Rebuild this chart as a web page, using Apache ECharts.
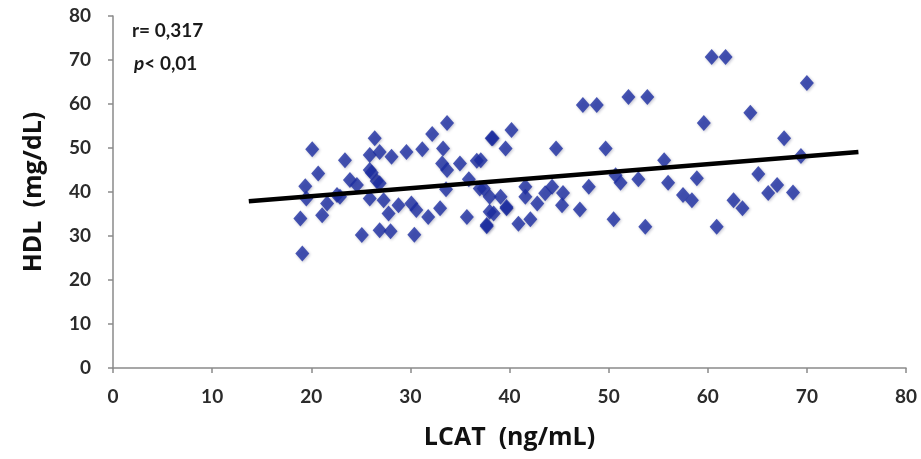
<!DOCTYPE html>
<html>
<head>
<meta charset="utf-8">
<script src="https://cdn.jsdelivr.net/npm/echarts@6/dist/echarts.min.js"></script>
<style>
  html, body { margin: 0; padding: 0; background: #fff; }
  #chart { width: 921px; height: 459px; }
</style>
</head>
<body>
<div id="chart"></div>
<script>
// LCAT (ng/mL) values
const lcat = [
  20.1, 26.4, 33.7, 32.2, 38.2, 23.4, 25.9, 26.9, 28.1, 29.6, 31.2, 33.3,
  25.9, 20.7, 33.2, 35.0, 36.7, 33.7, 26.6, 23.9, 24.6, 19.4, 35.9, 33.6,
  37.0, 38.0, 22.6, 21.6, 21.1, 18.9, 25.9, 27.3, 27.8, 28.8, 30.1, 30.6,
  31.8, 33.0, 35.7, 37.7, 38.0, 25.1, 26.9, 28.0, 30.4, 19.1,
  47.4, 48.8, 52.0, 53.9, 59.6, 40.2, 38.3, 39.6, 44.7, 49.7, 37.1, 55.6,
  50.7, 51.2, 53.0, 56.0, 58.9, 57.5, 58.4, 48.0, 41.6, 37.4, 44.3, 45.4,
  43.6, 39.1, 41.6, 42.8, 45.3, 39.7, 38.4, 47.1, 40.9, 42.1, 37.7, 50.5, 53.7,
  60.4, 61.8, 70.0, 64.3, 67.7, 69.4, 65.1, 67.0, 66.1, 68.6, 62.6, 63.5, 60.9,
  26.1, 22.9, 19.5, 26.9, 39.7
];
// HDL (mg/dL) values, same order
const hdl = [
  49.7, 52.2, 55.7, 53.2, 52.2, 47.2, 48.4, 49.1, 48.0, 49.1, 49.7, 49.9,
  45.0, 44.2, 46.5, 46.5, 47.1, 45.0, 42.5, 42.7, 41.6, 41.3, 42.9, 40.6,
  40.8, 38.9, 39.3, 37.4, 34.7, 34.0, 38.5, 38.1, 35.1, 37.0, 37.4, 35.9,
  34.3, 36.3, 34.3, 32.5, 35.5, 30.2, 31.3, 31.1, 30.3, 26.0,
  59.8, 59.8, 61.6, 61.6, 55.7, 54.1, 52.2, 49.9, 49.9, 49.9, 47.2, 47.2,
  43.8, 42.1, 42.9, 42.1, 43.1, 39.3, 38.1, 41.2, 41.2, 40.8, 41.2, 39.8,
  39.7, 38.9, 38.9, 37.4, 37.0, 36.3, 35.1, 36.0, 32.8, 33.8, 32.2, 33.8, 32.1,
  70.7, 70.7, 64.8, 58.0, 52.2, 48.2, 44.1, 41.6, 39.8, 39.9, 38.1, 36.3, 32.1,
  44.4, 38.9, 38.5, 42.0, 36.6
];
// trend line end points
const trendX = [13.7, 75.2];
const trendY = [37.9, 49.1];

const points = lcat.map((x, i) => [x, hdl[i]]);
const trend = trendX.map((x, i) => [x, trendY[i]]);

const chart = echarts.init(document.getElementById("chart"));
const axisFont = { fontFamily: "Lato", fontWeight: "bold", fontSize: 19, color: "#2b2b2b" };
const titleFont = { fontFamily: "Open Sans", fontWeight: "bold", fontSize: 25, color: "#111" };

chart.setOption({
  animation: false,
  grid: { left: 113, right: 15, top: 16, bottom: 91 },
  xAxis: {
    type: "value",
    min: 0, max: 80, interval: 10,
    name: "LCAT  (ng/mL)",
    nameLocation: "middle",
    nameGap: 57,
    nameTextStyle: titleFont,
    axisLine: { show: true, lineStyle: { color: "#8a8a8a", width: 1.5 } },
    axisTick: { show: true, inside: false, length: 5, lineStyle: { color: "#8a8a8a", width: 1.5 } },
    axisLabel: Object.assign({ margin: 19 }, axisFont),
    splitLine: { show: false },
  },
  yAxis: {
    type: "value",
    min: 0, max: 80, interval: 10,
    name: "HDL  (mg/dL)",
    nameLocation: "middle",
    nameGap: 67,
    nameTextStyle: titleFont,
    axisLine: { show: true, lineStyle: { color: "#8a8a8a", width: 1.5 } },
    axisTick: { show: true, inside: false, length: 5, lineStyle: { color: "#8a8a8a", width: 1.5 } },
    axisLabel: Object.assign({ margin: 22 }, axisFont),
    splitLine: { show: false },
  },
  graphic: [
    {
      type: "text", left: 132, top: 21,
      style: { text: "r= 0,317", font: "bold 19px Lato", fill: "#1a1a1a" },
    },
    {
      type: "text", left: 134, top: 54,
      style: {
        text: "{i|p}< 0,01",
        font: "bold 19px Lato", fill: "#1a1a1a",
        rich: { i: { fontStyle: "italic", fontWeight: "bold", fontSize: 19, fontFamily: "Lato", color: "#1a1a1a" } },
      },
    },
  ],
  series: [
    {
      type: "scatter",
      data: points,
      symbol: "diamond",
      symbolSize: [14, 16],
      itemStyle: {
        color: "#1d2ea3",
        shadowColor: "rgba(0,0,60,0.3)",
        shadowBlur: 3,
        shadowOffsetX: 1,
        shadowOffsetY: 1,
      },
      z: 2,
    },
    {
      type: "line",
      data: trend,
      symbol: "none",
      lineStyle: { color: "#000", width: 4.5 },
      z: 3,
    },
  ],
});
</script>
</body>
</html>
